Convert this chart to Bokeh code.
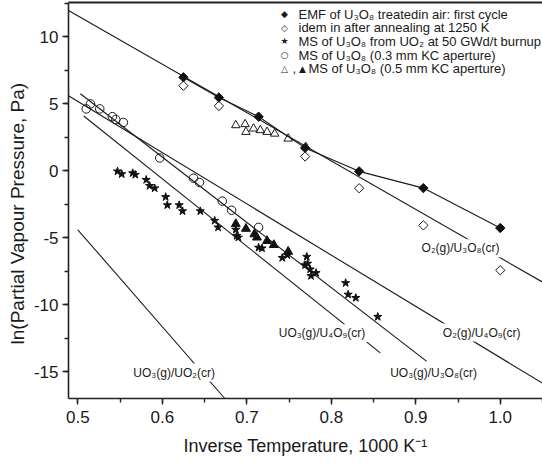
import numpy as np
from bokeh.plotting import figure
from bokeh.models import Range1d, SingleIntervalTicker, LinearAxis, FixedTicker, Label, PrintfTickFormatter
from bokeh.embed import file_html
from bokeh.resources import INLINE

# ---------------- data ----------------
emf_x = [0.625, 0.667, 0.714, 0.769, 0.833, 0.909, 1.000]
emf_y = [6.97, 5.46, 4.03, 1.70, -0.05, -1.30, -4.28]

idem_x = [0.625, 0.667, 0.769, 0.833, 0.909, 1.000]
idem_y = [6.34, 4.83, 1.06, -1.31, -4.08, -7.43]

star_x = [0.547, 0.552, 0.565, 0.568, 0.581, 0.585, 0.591, 0.604, 0.606, 0.620,
          0.624, 0.645, 0.662, 0.666, 0.687, 0.688, 0.690, 0.714, 0.718, 0.742,
          0.748, 0.769, 0.771, 0.772, 0.775, 0.776, 0.782, 0.817, 0.820, 0.829, 0.855]
star_y = [-0.05, -0.25, -0.18, -0.30, -0.68, -1.13, -1.31, -1.96, -2.57, -2.57,
          -3.02, -3.02, -3.73, -4.23, -4.40, -4.86, -4.98, -5.74, -5.79, -6.50,
          -6.30, -7.05, -6.42, -6.93, -7.36, -7.85, -7.63, -8.38, -9.24, -9.49, -10.90]

circ_x = [0.510, 0.515, 0.526, 0.541, 0.545, 0.554, 0.597, 0.637, 0.644, 0.671, 0.682, 0.714]
circ_y = [4.61, 4.98, 4.61, 4.03, 3.82, 3.60, 0.95, -0.56, -0.88, -2.27, -2.95, -4.23]

otri_x = [0.687, 0.698, 0.699, 0.708, 0.716, 0.724, 0.733, 0.749, 0.770]
otri_y = [3.39, 3.47, 2.89, 3.14, 3.02, 2.89, 2.76, 2.39, 1.76]

ftri_x = [0.687, 0.699, 0.709, 0.712, 0.724, 0.732, 0.749]
ftri_y = [-3.98, -4.33, -4.74, -4.98, -5.24, -5.54, -6.04]

# calculated equilibrium lines (end points)
o2_u3o8_x = [0.489, 1.05]
o2_u3o8_y = [11.96, -8.31]
o2_u4o9_x = [0.489, 1.05]
o2_u4o9_y = [5.59, -15.86]
uo3_u3o8_x = [0.503, 0.913]
uo3_u3o8_y = [5.74, -14.23]
uo3_u4o9_x = [0.507, 0.858]
uo3_u4o9_y = [4.08, -13.60]
uo3_uo2_x = [0.500, 0.674]
uo3_uo2_y = [-4.41, -17.0]

line_labels = ["O\u2082(g)/U\u2083O\u2088(cr)", "O\u2082(g)/U\u2084O\u2089(cr)",
               "UO\u2083(g)/U\u2083O\u2088(cr)", "UO\u2083(g)/U\u2084O\u2089(cr)",
               "UO\u2083(g)/UO\u2082(cr)"]
line_label_x = [0.953, 0.978, 0.921, 0.789, 0.614]
line_label_y = [-5.79, -12.08, -15.10, -12.14, -15.06]

legend_texts = ["EMF of U\u2083O\u2088 treatedin air: first cycle",
                "idem in after annealing at 1250 K",
                "MS of U\u2083O\u2088 from UO\u2082 at 50 GWd/t burnup",
                "MS of U\u2083O\u2088 (0.3 mm KC aperture)",
                "MS of U\u2083O\u2088 (0.5 mm KC aperture)"]
legend_symbols = ["\u25c6", "\u25c7", "\u2605", "\u25cb", "\u25b3"]

x_label = "Inverse Temperature, 1000 K\u207b\u00b9"
y_label = "ln(Partial Vapour Pressure, Pa)" + "\u00a0" * 5

FONT = "Liberation Sans"
TXT = "#1a1a1a"

# ---------------- figure ----------------
p = figure(width=542, height=466, output_backend="svg", toolbar_location=None,
           x_range=Range1d(0.489, 1.05), y_range=Range1d(-17.0, 12.55),
           min_border_left=68, min_border_right=0, min_border_top=2, min_border_bottom=68,
           x_axis_label=x_label, y_axis_label=y_label)
p.outline_line_color = None
p.xgrid.visible = False
p.ygrid.visible = False
p.background_fill_color = "white"

p.xaxis.ticker = SingleIntervalTicker(interval=0.1, num_minor_ticks=2)
p.yaxis.ticker = SingleIntervalTicker(interval=5, num_minor_ticks=2)
p.xaxis.formatter = PrintfTickFormatter(format="%.1f")
p.yaxis.formatter = PrintfTickFormatter(format="%d")
for ax in (p.xaxis[0], p.yaxis[0]):
    ax.axis_line_width = 1.6
    ax.axis_line_color = "#222222"
    ax.major_tick_line_width = 1.4
    ax.minor_tick_line_width = 1.4
    ax.major_tick_line_color = "#222222"
    ax.minor_tick_line_color = "#222222"
    ax.major_tick_in = 0
    ax.major_tick_out = 6
    ax.minor_tick_in = 0
    ax.minor_tick_out = 4
    ax.major_label_text_font = FONT
    ax.major_label_text_font_size = "17px"
    ax.major_label_text_color = TXT
    ax.axis_label_text_font = FONT
    ax.axis_label_text_font_size = "18px"
    ax.axis_label_text_font_style = "normal"
    ax.axis_label_text_color = TXT
p.yaxis.axis_label_text_font_size = "19px"
p.xaxis.major_label_standoff = 6
p.xaxis.axis_label_standoff = 10
p.yaxis.major_label_standoff = 4
p.yaxis.axis_label_standoff = 3

top = LinearAxis(ticker=FixedTicker(ticks=[]), axis_line_width=2.2, axis_line_color="#222222",
                 major_tick_out=0, minor_tick_out=0, major_label_standoff=0)
p.add_layout(top, "above")

# lines
for lx, ly in [(o2_u3o8_x, o2_u3o8_y), (o2_u4o9_x, o2_u4o9_y), (uo3_u3o8_x, uo3_u3o8_y),
               (uo3_u4o9_x, uo3_u4o9_y), (uo3_uo2_x, uo3_uo2_y)]:
    p.line(lx, ly, line_color="#1a1a1a", line_width=1.1)
p.line(emf_x, emf_y, line_color="#1a1a1a", line_width=1.1)

# markers
p.scatter(idem_x, idem_y, marker="square", angle=np.pi / 4, size=6.6,
          fill_color="white", line_color="#1a1a1a", line_width=1)
p.scatter(emf_x, emf_y, marker="square", angle=np.pi / 4, size=6.6,
          fill_color="#111111", line_color="#111111", line_width=1)
p.scatter(circ_x, circ_y, marker="circle", size=8.5,
          fill_color=None, line_color="#1a1a1a", line_width=1)
p.scatter(otri_x, otri_y, marker="triangle", size=8.5,
          fill_color=None, line_color="#1a1a1a", line_width=1)
p.scatter(star_x, star_y, marker="star", size=8.5,
          fill_color="#111111", line_color="#111111", line_width=1)
p.scatter(ftri_x, ftri_y, marker="triangle", size=9,
          fill_color="#111111", line_color="#111111", line_width=1)

# labels on the lines
for t, lx, ly in zip(line_labels, line_label_x, line_label_y):
    p.add_layout(Label(x=lx, y=ly, text=t, text_font=FONT, text_font_size="12px",
                       text_color=TXT, text_align="center", text_baseline="middle",
                       background_fill_color="white", background_fill_alpha=1.0, padding=2))

# legend built from text (rows measured from the canvas top; frame top at 7, height 391)
row_px = [13.5, 27.2, 40.9, 54.6, 68.3]
frame_top = 7
frame_h = 391
for i, (sym, t) in enumerate(zip(legend_symbols, legend_texts)):
    sy = frame_h - (row_px[i] - frame_top)
    p.add_layout(Label(x=216, y=sy, x_units="screen", y_units="screen", text=sym,
                       text_font="DejaVu Sans", text_font_size="9px", text_color=TXT,
                       text_align="center", text_baseline="middle"))
    if i < 4:
        p.add_layout(Label(x=230, y=sy, x_units="screen", y_units="screen", text=t,
                           text_font=FONT, text_font_size="13px", text_color=TXT,
                           text_align="left", text_baseline="middle"))
    else:
        p.add_layout(Label(x=224, y=sy, x_units="screen", y_units="screen", text=",",
                           text_font=FONT, text_font_size="13px", text_color=TXT,
                           text_align="left", text_baseline="middle"))
        p.add_layout(Label(x=234, y=sy, x_units="screen", y_units="screen", text="\u25b2",
                           text_font="DejaVu Sans", text_font_size="9px", text_color=TXT,
                           text_align="center", text_baseline="middle"))
        p.add_layout(Label(x=240, y=sy, x_units="screen", y_units="screen", text=t,
                           text_font=FONT, text_font_size="13px", text_color=TXT,
                           text_align="left", text_baseline="middle"))

open("out.html", "w").write(file_html(p, INLINE))
